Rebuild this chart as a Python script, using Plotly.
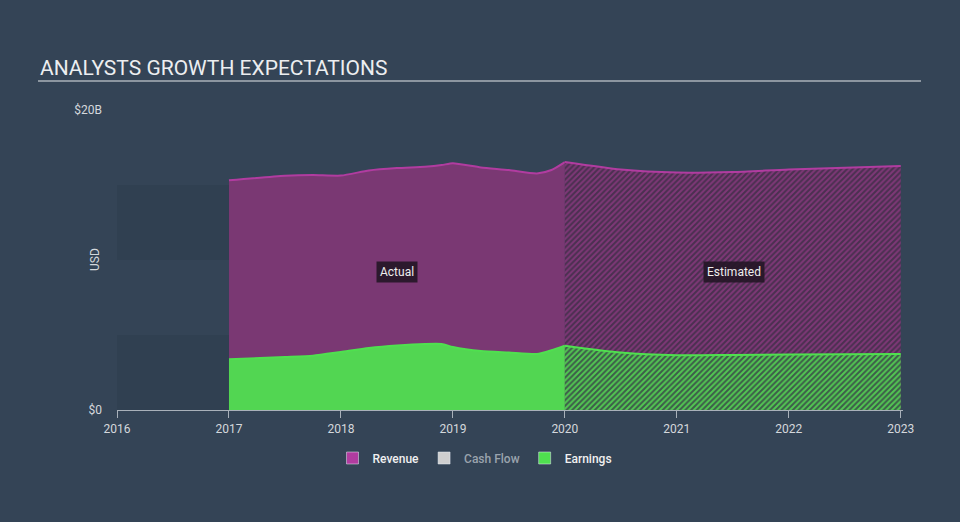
import plotly.graph_objects as go

# ---- data (USD billions) ----
actual_x = [2017.0, 2017.5, 2017.75, 2018.0, 2018.25, 2018.5, 2018.75, 2018.9, 2019.0, 2019.25, 2019.5, 2019.75, 2019.88, 2020.0]
actual_revenue = [15.31, 15.62, 15.67, 15.63, 15.97, 16.13, 16.22, 16.33, 16.45, 16.17, 16.00, 15.77, 16.00, 16.53]
actual_earnings = [3.38, 3.53, 3.62, 3.87, 4.13, 4.30, 4.40, 4.40, 4.20, 3.93, 3.83, 3.73, 3.98, 4.29]

est_x = [2020.0, 2020.5, 2021.0, 2021.5, 2022.0, 2023.0]
est_revenue = [16.53, 16.03, 15.83, 15.87, 16.03, 16.27]
est_earnings = [4.29, 3.83, 3.65, 3.67, 3.70, 3.73]

year_ticks = [2016, 2017, 2018, 2019, 2020, 2021, 2022, 2023]
year_labels = [str(y) for y in year_ticks]
y_ticks = [0, 20]
y_labels = ["$0", "$20B"]

BG = "#344456"
REV_LINE = "#b13ca0"
REV_FILL = "#7a3873"
EARN_LINE = "#4fe04f"
EARN_FILL = "#52d652"
TEXT = "#d4d8dc"

fig = go.Figure()

fig.add_trace(go.Scatter(
    x=actual_x, y=actual_revenue, mode="lines", fill="tozeroy",
    line=dict(color=REV_LINE, width=2, shape="spline", smoothing=0.6),
    fillcolor=REV_FILL, showlegend=False, hoverinfo="skip"))
fig.add_trace(go.Scatter(
    x=est_x, y=est_revenue, mode="lines", fill="tozeroy",
    line=dict(color=REV_LINE, width=2, shape="spline", smoothing=0.6),
    fillpattern=dict(shape="/", bgcolor="#4a3050", fgcolor="#7e3877",
                     size=4, solidity=0.5, fillmode="replace"),
    showlegend=False, hoverinfo="skip"))
fig.add_trace(go.Scatter(
    x=actual_x, y=actual_earnings, mode="lines", fill="tozeroy",
    line=dict(color=EARN_LINE, width=2, shape="spline", smoothing=0.6),
    fillcolor=EARN_FILL, showlegend=False, hoverinfo="skip"))
fig.add_trace(go.Scatter(
    x=est_x, y=est_earnings, mode="lines", fill="tozeroy",
    line=dict(color=EARN_LINE, width=2, shape="spline", smoothing=0.6),
    fillpattern=dict(shape="/", bgcolor="#3d5c4a", fgcolor="#52c752",
                     size=4, solidity=0.5, fillmode="replace"),
    showlegend=False, hoverinfo="skip"))

# legend-only dummy entries
for name, col in [("Revenue", "#b13ca0"),
                  ("<span style='color:#9aa3ad'>Cash Flow</span>", "#cfcfcf"),
                  ("Earnings", "#4fe04f")]:
    fig.add_trace(go.Bar(x=[None], y=[None], name=name, marker_color=col,
                         showlegend=True, hoverinfo="skip"))

# subtle dark bands in the no-data area
shapes = []
for y0, y1 in [(0, 5), (10, 15)]:
    shapes.append(dict(type="rect", xref="x", yref="y", x0=2016, x1=2017, y0=y0, y1=y1,
                       fillcolor="rgba(20,28,38,0.10)", line=dict(width=0), layer="below"))
# title underline
shapes.append(dict(type="line", xref="paper", yref="paper",
                   x0=(38 - 117) / 786, x1=(921 - 117) / 786,
                   y0=(410 - 81) / 300, y1=(410 - 81) / 300,
                   line=dict(color="#aab2ba", width=1.5)))

annotations = [
    dict(text="ANALYSTS GROWTH EXPECTATIONS", xref="paper", yref="paper",
         x=(38 - 117) / 786, y=(410 - 68) / 300, xanchor="left", yanchor="middle",
         showarrow=False, font=dict(family="Roboto", size=21, color="#eceef0")),
    dict(text="USD", xref="paper", yref="paper", x=(95 - 117) / 786, y=0.5,
         textangle=-90, showarrow=False, xanchor="center", yanchor="middle",
         font=dict(family="Roboto", size=12, color=TEXT)),
    dict(text="Actual", x=2018.5, y=9.2, xref="x", yref="y", showarrow=False,
         bgcolor="rgba(35,22,38,0.9)", borderpad=3,
         font=dict(family="Roboto", size=12, color="#eeeeee")),
    dict(text="Estimated", x=2021.51, y=9.2, xref="x", yref="y", showarrow=False,
         bgcolor="rgba(35,22,38,0.9)", borderpad=3,
         font=dict(family="Roboto", size=12, color="#eeeeee")),
]

fig.update_layout(
    width=960, height=522,
    margin=dict(l=117, r=57, t=110, b=112, autoexpand=False),
    paper_bgcolor=BG, plot_bgcolor="rgba(0,0,0,0)",
    font=dict(family="Roboto", size=12, color=TEXT),
    shapes=shapes, annotations=annotations,
    showlegend=True,
    legend=dict(orientation="h", xref="container", yref="container",
                x=475 / 960, xanchor="center", y=1 - 458 / 522, yanchor="middle",
                font=dict(family="Roboto", size=12, color="#f0f0f0", weight=500),
                bgcolor="rgba(0,0,0,0)", itemwidth=30, traceorder="normal"),
    xaxis=dict(range=[2016, 2023.02], tickmode="array", tickvals=year_ticks,
               ticktext=year_labels, showgrid=False, zeroline=False,
               showline=True, linecolor="#a9b1ba", linewidth=1.2,
               ticks="outside", ticklen=7, tickcolor="#a9b1ba", tickwidth=1.2,
               tickfont=dict(family="Roboto", size=12, color=TEXT), fixedrange=True),
    yaxis=dict(range=[0, 20], tickmode="array", tickvals=y_ticks, ticktext=y_labels,
               showgrid=False, zeroline=False, showline=False,
               ticklabelstandoff=14,
               tickfont=dict(family="Roboto", size=12, color=TEXT), fixedrange=True),
    hovermode=False,
)

fig.write_html("out.html", config={"displayModeBar": False},
               post_script="document.body.style.margin='0';document.body.style.background='" + BG + "';")
